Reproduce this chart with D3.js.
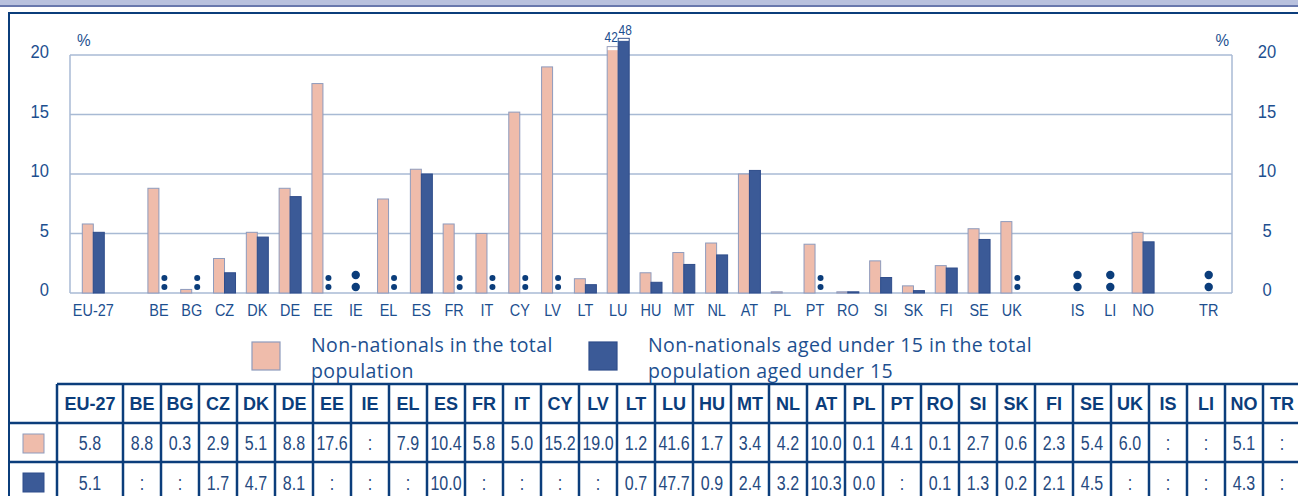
<!DOCTYPE html>
<html>
<head>
<meta charset="utf-8">
<script src="https://cdnjs.cloudflare.com/ajax/libs/d3/7.8.5/d3.min.js"></script>
<style>
  body { margin: 0; background: #fff; }
  svg { display: block; }
</style>
</head>
<body>
<div class="svg-wrap"></div>
<script>
let countries = ["EU-27", "BE", "BG", "CZ", "DK", "DE", "EE", "IE", "EL", "ES", "FR", "IT", "CY", "LV", "LT", "LU",
  "HU", "MT", "NL", "AT", "PL", "PT", "RO", "SI", "SK", "FI", "SE", "UK", "IS", "LI", "NO", "TR"];
let totalPop = [5.8, 8.8, 0.3, 2.9, 5.1, 8.8, 17.6, null, 7.9, 10.4, 5.8, 5.0, 15.2, 19.0, 1.2, 41.6,
  1.7, 3.4, 4.2, 10.0, 0.1, 4.1, 0.1, 2.7, 0.6, 2.3, 5.4, 6.0, null, null, 5.1, null];
let under15 = [5.1, null, null, 1.7, 4.7, 8.1, null, null, null, 10.0, null, null, null, null, 0.7, 47.7,
  0.9, 2.4, 3.2, 10.3, 0.0, null, 0.1, 1.3, 0.2, 2.1, 4.5, null, null, null, 4.3, null];
let gapAfter = ["EU-27", "UK", "NO"];
let yTicks = [0, 5, 10, 15, 20];
// where the bars that run off the scale are cut
let breakTop = [20.7, 21.4];
let legendLabels = [
  ["Non-nationals in the total", "population"],
  ["Non-nationals aged under 15 in the total", "population aged under 15"]
];

let colors = ["#efbcab", "#3b5a97"];
let strokes = ["#8e9bbd", "#2f4d8b"];
let navy = "#0b3d7b";
let textBlue = "#1d4f8f";

let W = 1298, H = 496;
let plot = { left: 70, right: 1232, top: 55, bottom: 293 };

let svg = d3.select(".svg-wrap")
  .append("svg")
  .attr("width", W)
  .attr("height", H)
  .style("background-color", "white");

// top band and frame
svg.append("rect").attr("x", 0).attr("y", 0).attr("width", W).attr("height", 5).attr("fill", "#b8c1de");
svg.append("rect").attr("x", 0).attr("y", 5).attr("width", W).attr("height", 2).attr("fill", "#6878ad");
svg.append("rect").attr("x", 8).attr("y", 12).attr("width", W - 8).attr("height", 2).attr("fill", navy);
svg.append("rect").attr("x", 8).attr("y", 12).attr("width", 2).attr("height", H - 12).attr("fill", navy);

// slots with gaps
let slots = [];
countries.forEach((c, i) => {
  slots.push(c);
  if (gapAfter.includes(c)) slots.push("_gap" + i);
});

let x = d3.scaleBand()
  .domain(slots)
  .range([plot.left, plot.right])
  .paddingInner(0)
  .paddingOuter(0.21);

let y = d3.scaleLinear()
  .domain([0, 20])
  .range([plot.bottom, plot.top]);

let barW = 11;
let cx = c => x(c) + x.bandwidth() / 2;

// grid
let grid = svg.append("g").attr("id", "grid");
grid.selectAll("line.h")
  .data(yTicks)
  .enter()
  .append("line")
  .attr("x1", plot.left)
  .attr("x2", plot.right)
  .attr("y1", d => y(d))
  .attr("y2", d => y(d))
  .attr("stroke", "#a8bad4")
  .attr("stroke-width", 1.5);
[plot.left, plot.right].forEach(px => {
  grid.append("line")
    .attr("x1", px).attr("x2", px)
    .attr("y1", y(20)).attr("y2", y(0))
    .attr("stroke", "#a8bad4")
    .attr("stroke-width", 1.5);
});

let sans = "'Liberation Sans', Arial, sans-serif";
// narrow look: regular face squeezed sideways
let squeeze = (px, py, sx) => `translate(${px},${py}) scale(${sx},1)`;

// y labels both sides
let yl = svg.append("g").attr("id", "y-axis");
yl.selectAll("text.l")
  .data(yTicks)
  .enter()
  .append("text")
  .attr("transform", d => squeeze(49, y(d) + 3, 0.92))
  .attr("text-anchor", "end")
  .style("font-family", sans)
  .style("font-size", "18px")
  .style("fill", textBlue)
  .text(d => d);
yl.selectAll("text.r")
  .data(yTicks)
  .enter()
  .append("text")
  .attr("transform", d => squeeze(1267, y(d) + 3, 0.92))
  .attr("text-anchor", "middle")
  .style("font-family", sans)
  .style("font-size", "18px")
  .style("fill", textBlue)
  .text(d => d);
yl.append("text").attr("transform", squeeze(77, 46, 0.9))
  .style("font-family", sans).style("font-size", "17px").style("fill", textBlue).text("%");
yl.append("text").attr("transform", squeeze(1229, 46, 0.9)).attr("text-anchor", "end")
  .style("font-family", sans).style("font-size", "17px").style("fill", textBlue).text("%");

// x labels
svg.append("g").attr("id", "x-axis")
  .selectAll("text")
  .data(countries)
  .enter()
  .append("text")
  .attr("transform", d => squeeze(cx(d), 316, 0.85))
  .attr("text-anchor", "middle")
  .style("font-family", sans)
  .style("font-size", "17px")
  .style("fill", textBlue)
  .text(d => d);

// bars
let series = [totalPop, under15];
let shown = (v, s) => v > 20 ? breakTop[s] : v;
let bars = svg.append("g").attr("id", "bars");
series.forEach((vals, s) => {
  let rows = countries.map((c, i) => ({ c: c, v: vals[i] })).filter(d => d.v !== null && d.v > 0);
  bars.selectAll("rect.s" + s)
    .data(rows)
    .enter()
    .append("rect")
    .attr("class", "s" + s)
    .attr("x", d => cx(d.c) - barW + s * barW)
    .attr("y", d => y(shown(d.v, s)))
    .attr("width", barW)
    .attr("height", d => y(0) - y(shown(d.v, s)))
    .attr("fill", colors[s])
    .attr("stroke", strokes[s])
    .attr("stroke-width", 1);

  // break marks + value labels for bars running off the scale
  let over = rows.filter(d => d.v > 20);
  bars.selectAll("rect.b" + s)
    .data(over)
    .enter()
    .append("rect")
    .attr("x", d => cx(d.c) - barW + s * barW + 0.5)
    .attr("y", d => y(breakTop[s]) + 0.5)
    .attr("width", barW - 1)
    .attr("height", s === 0 ? 3 : 2)
    .attr("fill", "white");
  bars.selectAll("text.o" + s)
    .data(over)
    .enter()
    .append("text")
    .attr("transform", d => squeeze(cx(d.c) - barW / 2 + s * barW + (s === 0 ? -1.5 : 1.5),
      y(breakTop[s]) - (s === 0 ? 5 : 3), 0.85))
    .attr("text-anchor", "middle")
    .style("font-family", sans)
    .style("font-size", "14px")
    .style("fill", textBlue)
    .text(d => Math.round(d.v));
});

// ":" markers for missing values
let miss = svg.append("g").attr("id", "missing");
countries.forEach((c, i) => {
  if (totalPop[i] === null && under15[i] === null) {
    [18, 6].forEach(dy => {
      miss.append("circle").attr("cx", cx(c)).attr("cy", y(0) - dy).attr("r", 4.2).attr("fill", navy);
    });
  } else if (under15[i] === null) {
    [15, 6].forEach(dy => {
      miss.append("circle").attr("cx", cx(c) + barW / 2).attr("cy", y(0) - dy).attr("r", 3).attr("fill", navy);
    });
  }
});

// legend
let legendFont = "'Open Sans', sans-serif";
let legendX = [[252, 311], [589, 648]];
let legend = svg.append("g").attr("id", "legend");
legendLabels.forEach((lines, s) => {
  legend.append("rect")
    .attr("x", legendX[s][0]).attr("y", 342)
    .attr("width", 28).attr("height", 28)
    .attr("fill", colors[s]).attr("stroke", strokes[s]).attr("stroke-width", 1.2);
  lines.forEach((ln, k) => {
    legend.append("text")
      .attr("x", legendX[s][1])
      .attr("y", 352 + k * 26)
      .style("font-family", legendFont)
      .style("font-size", "19.5px")
      .style("letter-spacing", "0.4px")
      .style("fill", textBlue)
      .text(ln);
  });
});

// table
let table = svg.append("g").attr("id", "table");
let col = d3.scaleBand()
  .domain(countries.slice(1))
  .range([123, 123 + 38 * (countries.length - 1)]);
let colLeft = c => c === "EU-27" ? 57 : col(c);
let colMid = c => c === "EU-27" ? 90 : col(c) + col.bandwidth() / 2;
let rowTop = [384, 423, 462];

table.append("line").attr("x1", 57).attr("x2", W).attr("y1", rowTop[0]).attr("y2", rowTop[0])
  .attr("stroke", navy).attr("stroke-width", 2.5);
[rowTop[1], rowTop[2]].forEach(ry => {
  table.append("line").attr("x1", 9).attr("x2", W).attr("y1", ry).attr("y2", ry)
    .attr("stroke", navy).attr("stroke-width", 2.5);
});
table.selectAll("line.v")
  .data(countries)
  .enter()
  .append("line")
  .attr("x1", d => colLeft(d))
  .attr("x2", d => colLeft(d))
  .attr("y1", rowTop[0])
  .attr("y2", H)
  .attr("stroke", navy)
  .attr("stroke-width", 2.5);

table.selectAll("text.h")
  .data(countries)
  .enter()
  .append("text")
  .attr("x", d => colMid(d))
  .attr("y", 410)
  .attr("text-anchor", "middle")
  .style("font-family", sans)
  .style("font-weight", "bold")
  .style("font-size", "18px")
  .style("fill", navy)
  .text(d => d);

let fmt = d3.format(".1f");
let rowBase = [450, 490];
series.forEach((vals, s) => {
  table.append("rect")
    .attr("x", 23).attr("y", rowTop[s + 1] + 11)
    .attr("width", 21).attr("height", 19)
    .attr("fill", colors[s]).attr("stroke", strokes[s]).attr("stroke-width", 1);
  table.selectAll("text.v" + s)
    .data(countries)
    .enter()
    .append("text")
    .attr("transform", d => squeeze(colMid(d), rowBase[s], 0.8))
    .attr("text-anchor", "middle")
    .style("font-family", sans)
    .style("font-size", "20px")
    .style("fill", "#264a7f")
    .text((d, i) => vals[i] === null ? ":" : fmt(vals[i]));
});
</script>
</body>
</html>
